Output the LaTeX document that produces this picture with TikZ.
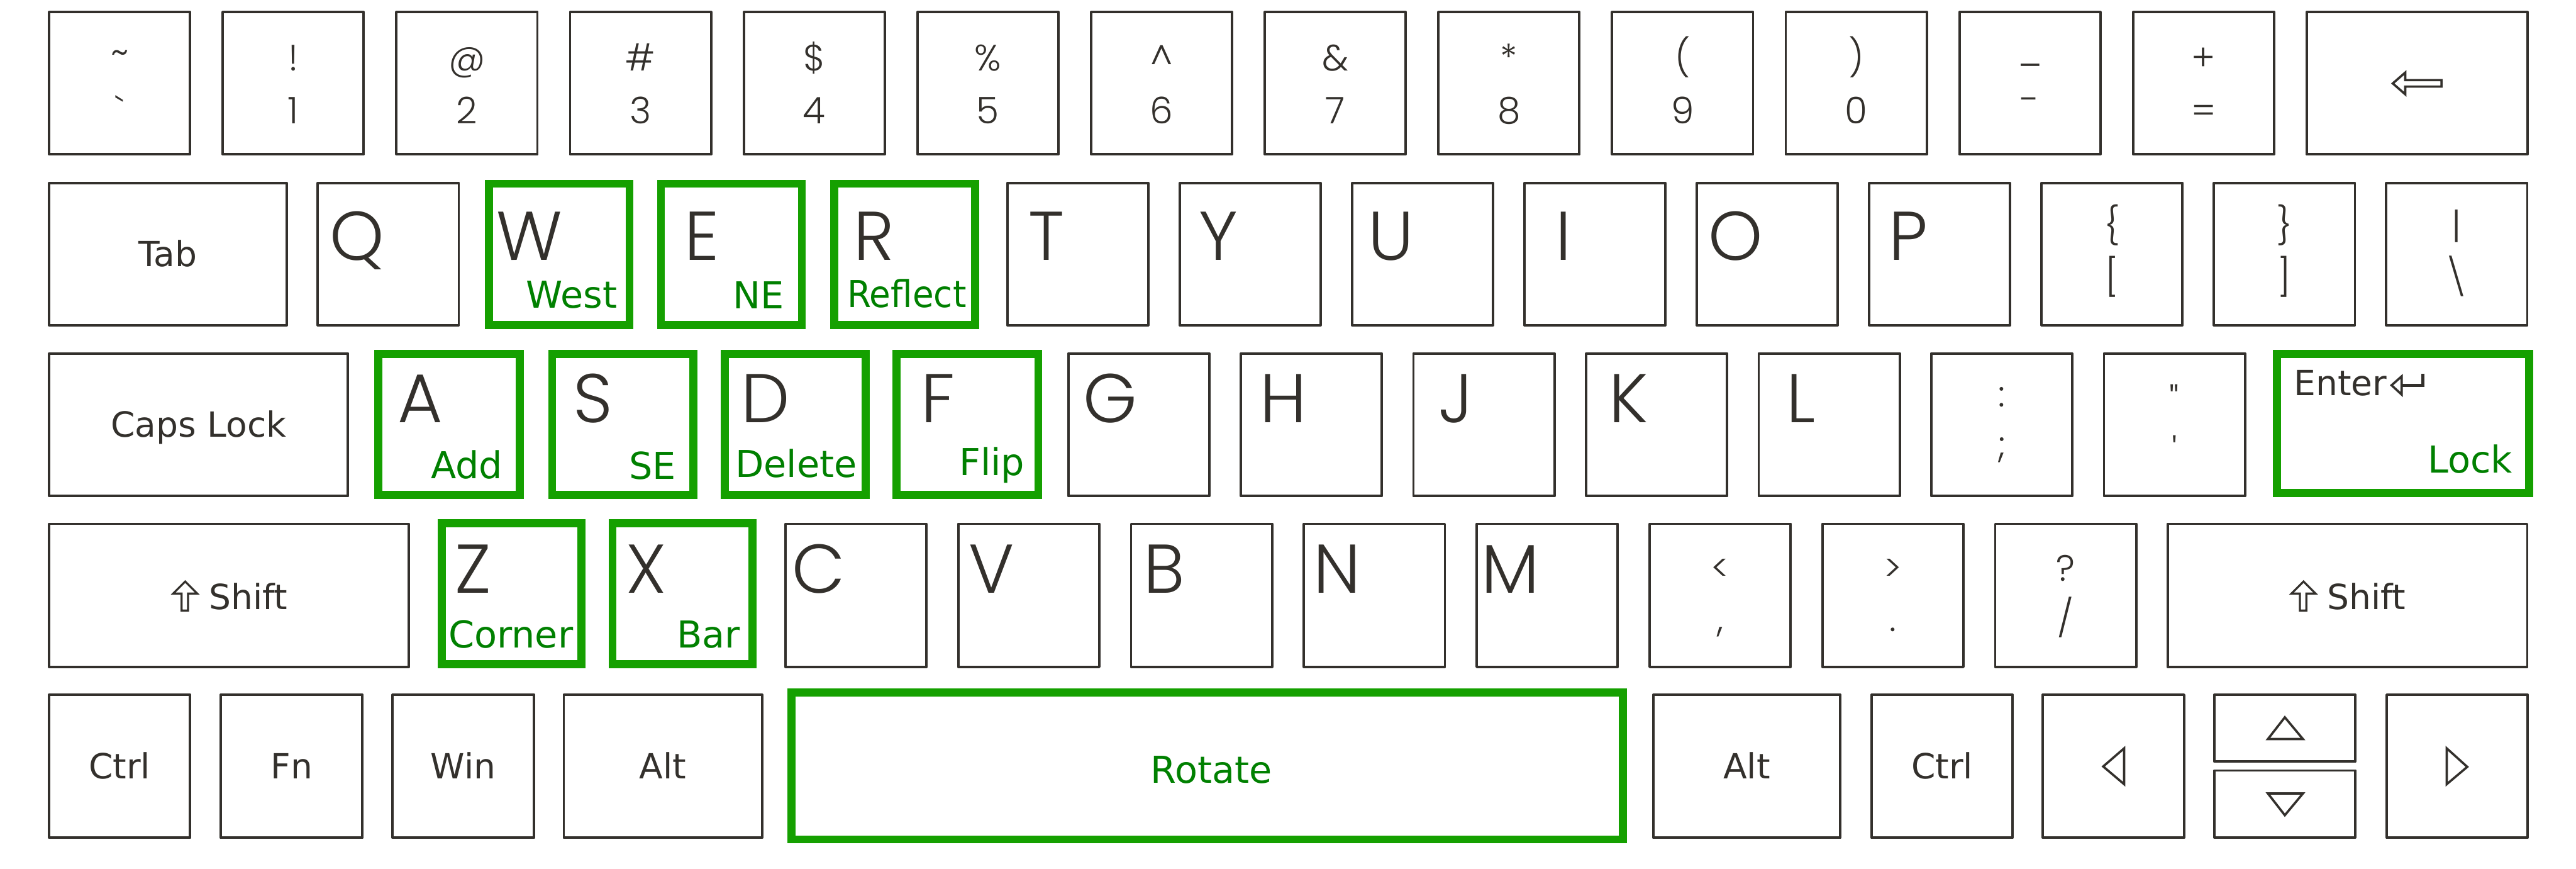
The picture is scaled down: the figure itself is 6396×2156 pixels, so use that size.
\documentclass[tikz,border=0pt]{standalone}
\usepackage{fontspec}
\usepackage{graphicx}
\setmainfont{DejaVu Sans}
\newfontfamily\legfont{Poppins Light}
\definecolor{keyink}{RGB}{51,48,44}
\definecolor{keygreen}{RGB}{21,160,0}
\definecolor{labelgreen}{RGB}{0,128,0}
\newcommand\kbox[5]{\draw[keyline] ({#2+3},{#3+3}) rectangle ({#4-3},{#5-3});\coordinate (#1) at ({(#2+#4)/2},{(#3+#5)/2});}
\newcommand\gbox[5]{\draw[greenline] ({#2+10},{#3+10}) rectangle ({#4-10},{#5-10});\coordinate (#1) at ({(#2+#4)/2},{(#3+#5)/2});}
\tikzset{
  keyline/.style={draw=keyink, line width=1.5pt, line join=round},
  greenline/.style={draw=keygreen, line width=5pt},
  symline/.style={draw=keyink, line width=1.4pt, line join=miter},
  biglet/.style={font=\legfont\fontsize{42.8}{44}\selectfont, text=keyink, inner sep=0pt, anchor=base},
  legend/.style={font=\legfont\fontsize{22.75}{24}\selectfont, text=keyink, inner sep=0pt, anchor=base},
  legendc/.style={font=\legfont\fontsize{22.75}{24}\selectfont, text=keyink, inner sep=0pt, anchor=center},
  blabel/.style={font=\fontsize{21.5}{23}\selectfont, text=keyink, inner sep=0pt, anchor=base},
  glabel/.style={font=\fontsize{23}{25}\selectfont, text=labelgreen, inner sep=0pt, anchor=base east},
}
\begin{document}
\begin{tikzpicture}[x=0.25pt,y=-0.25pt]
\useasboundingbox (0,0) rectangle (6396,2156);
\fill[white] (0,0) rectangle (6396,2156);

% ---------- Row 1 ----------
\foreach \i in {0,...,12}{
  \pgfmathsetmacro\L{119+431.2*\i}
  \kbox{k1-\i}{\L}{27}{\L+356}{386}
}
\foreach \i/\u/\d in {1/!/1,2/@/2,3/\#/3,4/\$/4,5/\%/5,6/\textasciicircum/6,7/\&/7,8/*/8,9/(/9,10/)/0,12/+/=}{
  \pgfmathsetmacro\cx{297+431.2*\i}
  \node[legend] (u1-\i) at (\cx,175) {\u};
  \node[legend] (d1-\i) at (\cx,307) {\d};
}
\node[legendc] (u1-0) at (297,143) {\textasciitilde};
\node[legendc] (d1-0) at (297,272) {\textasciigrave};
\node[legendc] (u1-11) at (5040,160) {\_};
\node[legendc] (d1-11) at (5040,260) {-};
\kbox{bksp}{5724}{27}{6279}{386}
\draw[symline] (5941,207) -- (5972,180) -- (5972,199) -- (6062,199) -- (6062,215) -- (5972,215) -- (5972,234) -- cycle;

% ---------- Row 2 ----------
\kbox{tab}{119}{451}{715}{810}
\node[blabel] (tabt) at (417,662) {Tab};
\foreach \j/\c in {0/Q,1/W,2/E,3/R,4/T,5/Y,6/U,7/I,8/O,9/P}{
  \pgfmathsetmacro\L{786+428*\j}
  \kbox{k2-\j}{\L}{451}{\L+356}{810}
  \node[biglet] (t2-\j) at (\L+100,645) {\c};
}
\foreach \j/\u/\d in {10/\{/[,11/\}/],12/|/\textbackslash}{
  \pgfmathsetmacro\L{786+428*\j}
  \kbox{k2-\j}{\L}{451}{\L+356}{810}
  \node[legend] (u2-\j) at (\L+178,592) {\u};
  \node[legend] (d2-\j) at (\L+178,720) {\d};
}
\gbox{gW}{1204}{446}{1573}{817}
\gbox{gE}{1631}{446}{2001}{817}
\gbox{gR}{2061}{446}{2431}{817}
\node[glabel] (lW) at (1533,765) {West};
\node[glabel] (lE) at (1948,766) {NE};
\node[glabel] (lR) at (2400,763) {\scalebox{0.93}[1]{Reflect}};

% ---------- Row 3 ----------
\kbox{caps}{119}{874}{867}{1234}
\node[blabel] (capst) at (493,1085) {Caps Lock};
\foreach \k/\c in {0/A,1/S,2/D,3/F,4/G,5/H,6/J,7/K,8/L}{
  \pgfmathsetmacro\L{935+428.6*\k}
  \kbox{k3-\k}{\L}{874}{\L+356}{1234}
  \node[biglet] (t3-\k) at (\L+108,1049) {\c};
}
\kbox{k3-9}{4792}{874}{5148}{1234}
\node[legend] (u3-9) at (4970,1009) {:};
\node[legend] (d3-9) at (4970,1134) {;};
\kbox{k3-10}{5221}{874}{5577}{1234}
\node[legendc] (u3-10) at (5399,991) {"};
\node[legendc] (d3-10) at (5399,1117) {'};
\kbox{enter}{5650}{874}{6279}{1234}
\gbox{gA}{929}{868}{1300}{1238}
\gbox{gS}{1361}{868}{1731}{1238}
\gbox{gD}{1790}{868}{2159}{1238}
\gbox{gF}{2216}{868}{2588}{1238}
\gbox{gEnter}{5643}{868}{6290}{1233}
\node[glabel] (lA) at (1249,1188) {Add};
\node[glabel] (lS) at (1679,1189) {SE};
\node[glabel] (lD) at (2129,1184) {Delete};
\node[glabel] (lF) at (2545,1180) {Flip};
\node[blabel, anchor=base west] (entert) at (5695,982) {Enter};
\draw[keyink, line width=2pt] (6016,927) -- (6016,956) -- (5963,956);
\draw[symline] (5938,956) -- (5963,934) -- (5963,979) -- cycle;
\node[glabel] (lEnter) at (6239,1173) {Lock};

% ---------- Row 4 ----------
\kbox{lshift}{119}{1297}{1018}{1658}
\draw[keyink, line width=1.25pt, line join=miter] (460,1443) -- (430,1473) -- (451,1473) -- (451,1515) -- (467,1515) -- (467,1473) -- (490,1473) -- cycle;
\node[blabel, anchor=base west] (lshiftt) at (518,1513) {Shift};
\foreach \m/\c in {0/Z,1/X,2/C,3/V,4/B,5/N,6/M}{
  \pgfmathsetmacro\L{1089+429.1*\m}
  \kbox{k4-\m}{\L}{1297}{\L+356}{1658}
  \node[biglet] (t4-\m) at (\L+86,1472) {\c};
}
\kbox{k4-7}{4093}{1297}{4449}{1658}
\node[legend] (u4-7) at (4271,1442) {<};
\node[legend] (d4-7) at (4271,1567) {,};
\kbox{k4-8}{4522}{1297}{4878}{1658}
\node[legend] (u4-8) at (4700,1442) {>};
\node[legend] (d4-8) at (4700,1567) {.};
\kbox{k4-9}{4951}{1297}{5307}{1658}
\node[legend] (u4-9) at (5129,1442) {?};
\node[legend] (d4-9) at (5129,1567) {/};
\kbox{rshift}{5379}{1297}{6278}{1658}
\begin{scope}[xshift=5259.5*0.25pt]
\draw[keyink, line width=1.25pt, line join=miter] (460,1443) -- (430,1473) -- (451,1473) -- (451,1515) -- (467,1515) -- (467,1473) -- (490,1473) -- cycle;
\end{scope}
\node[blabel, anchor=base west] (rshiftt) at (5777,1513) {Shift};
\gbox{gZ}{1087}{1288}{1454}{1658}
\gbox{gX}{1511}{1288}{1878}{1658}
\node[glabel] (lZ) at (1424,1607) {Corner};
\node[glabel] (lX) at (1839,1607) {Bar};

% ---------- Row 5 ----------
\kbox{lctrl}{119}{1721}{475}{2082}
\node[blabel] (lctrlt) at (297,1933) {Ctrl};
\kbox{fn}{545}{1721}{903}{2082}
\node[blabel] (fnt) at (724,1933) {Fn};
\kbox{win}{972}{1721}{1329}{2082}
\node[blabel] (wint) at (1150,1933) {Win};
\kbox{lalt}{1397}{1721}{1895}{2082}
\node[blabel] (laltt) at (1646,1933) {Alt};
\gbox{gSpace}{1955}{1709}{4039}{2093}
\node[glabel, anchor=base] (lSpace) at (3008,1944) {Rotate};
\kbox{ralt}{4102}{1721}{4572}{2082}
\node[blabel] (raltt) at (4337,1933) {Alt};
\kbox{rctrl}{4644}{1721}{5000}{2082}
\node[blabel] (rctrlt) at (4822,1933) {Ctrl};
\kbox{left}{5069}{1721}{5426}{2082}
\draw[symline] (5222,1902) -- (5274,1857) -- (5274,1946) -- cycle;
\kbox{up}{5495}{1721}{5851}{1893}
\draw[symline] (5673,1780) -- (5631,1834) -- (5718,1834) -- cycle;
\kbox{down}{5495}{1909}{5851}{2081}
\draw[symline] (5631,1969) -- (5718,1969) -- (5673,2023) -- cycle;
\kbox{right}{5923}{1721}{6279}{2082}
\draw[symline] (6126,1903) -- (6075,1857) -- (6075,1946) -- cycle;
\end{tikzpicture}
\end{document}
